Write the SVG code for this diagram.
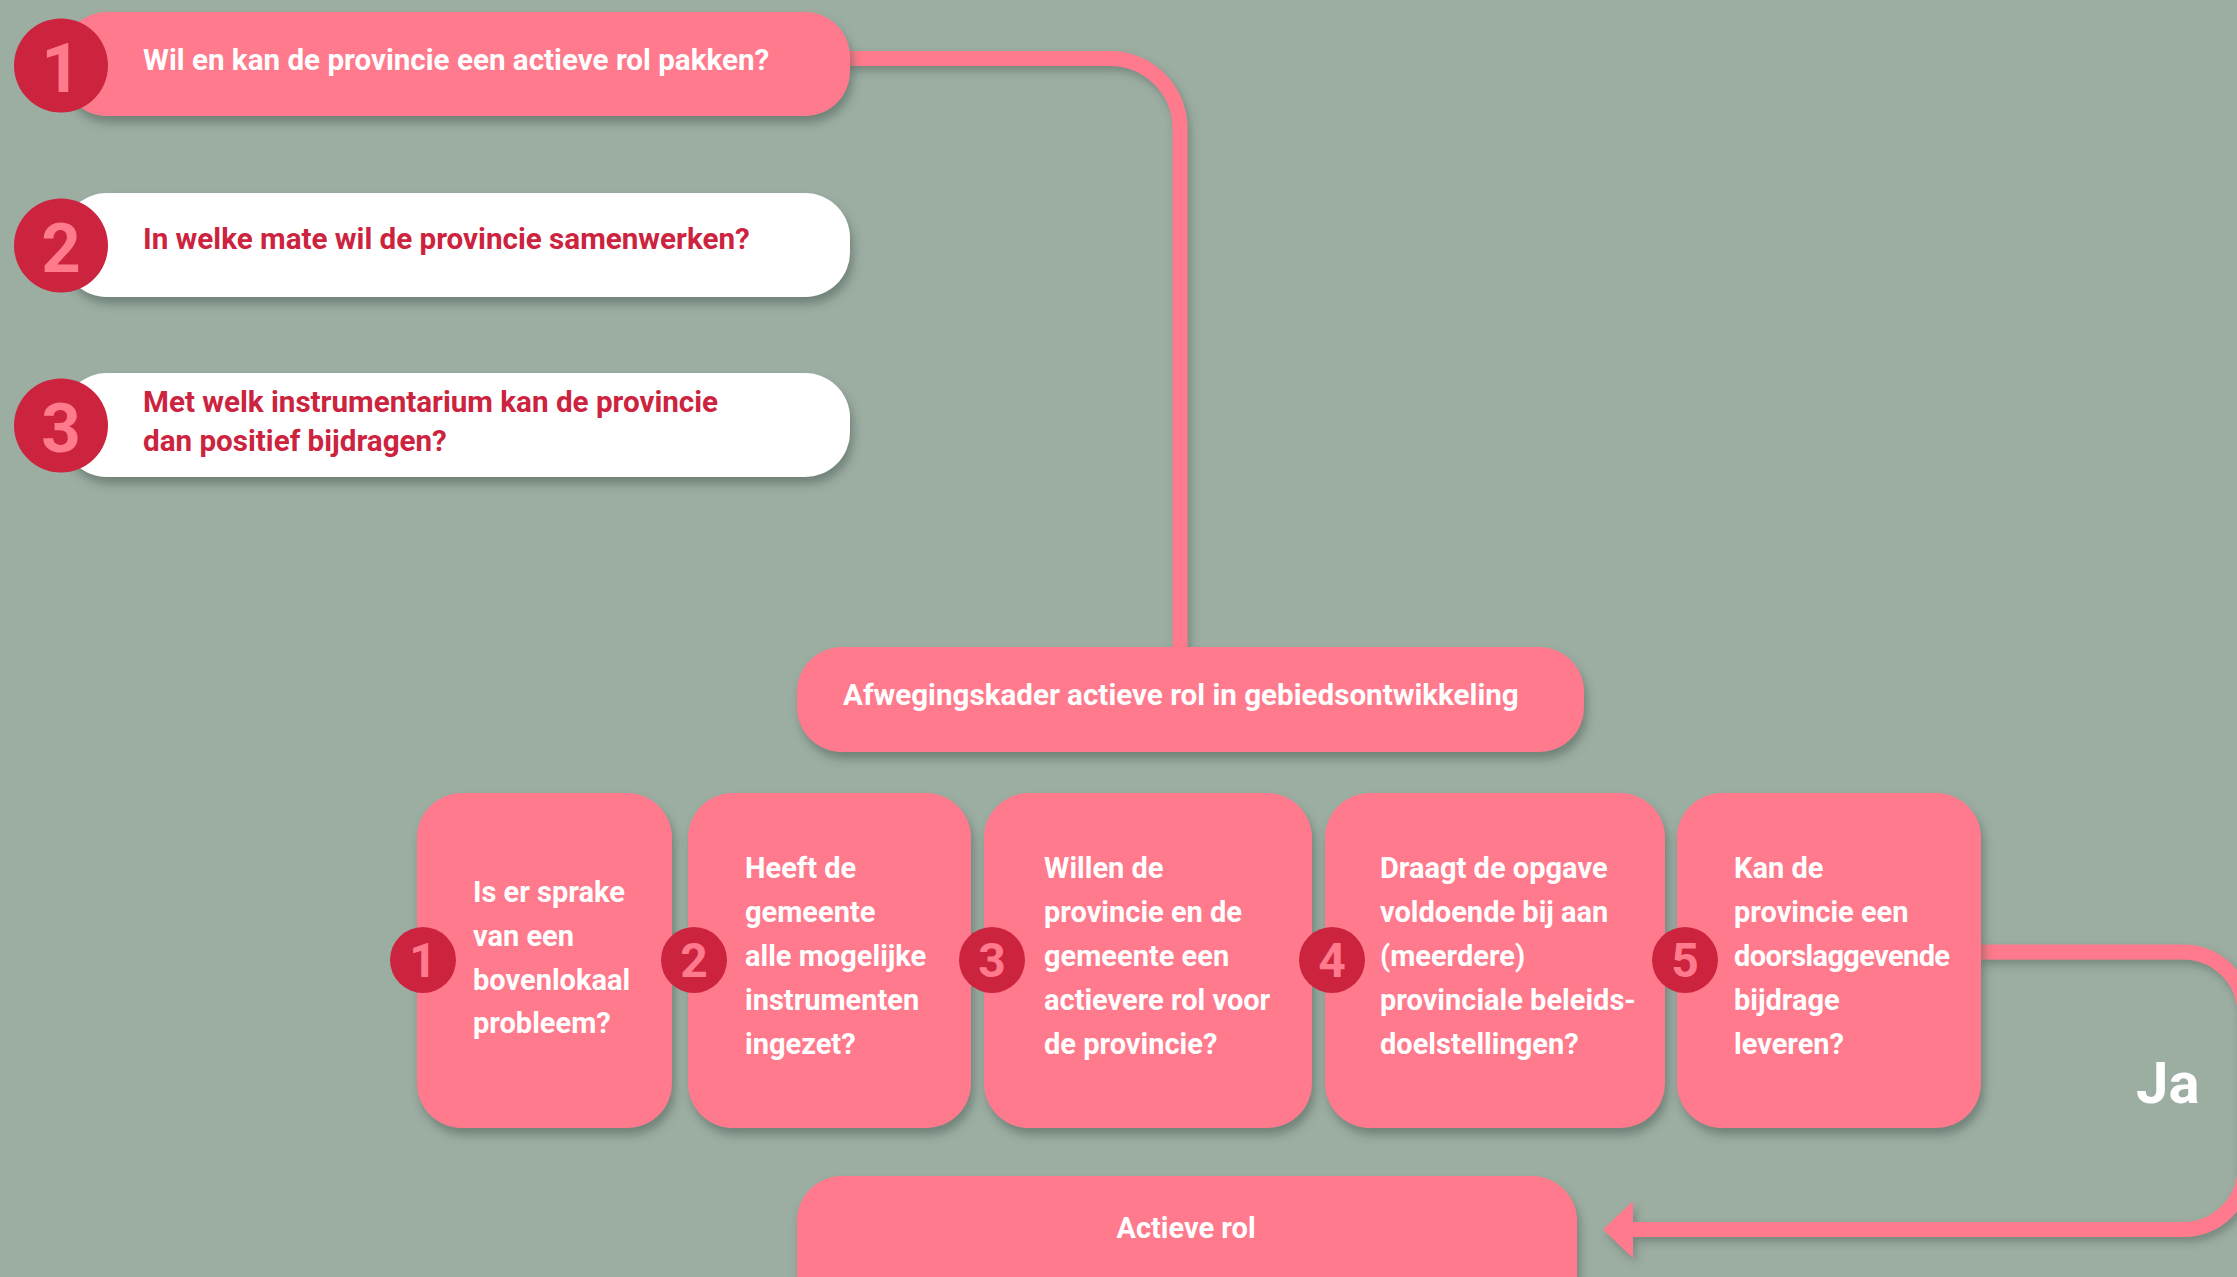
<svg xmlns="http://www.w3.org/2000/svg" width="2237" height="1277" viewBox="0 0 2237 1277">
<defs>
<filter id="sh" x="-10%" y="-20%" width="130%" height="150%">
<feDropShadow dx="3" dy="7" stdDeviation="5" flood-color="#3d4d44" flood-opacity="0.45"/>
</filter>
<filter id="shl" x="-10%" y="-10%" width="120%" height="120%">
<feDropShadow dx="3" dy="5" stdDeviation="4" flood-color="#3d4d44" flood-opacity="0.4"/>
</filter>
<marker id="arr" markerUnits="userSpaceOnUse" markerWidth="30" markerHeight="57" viewBox="0 0 30 57" refX="0" refY="28.5" orient="auto">
<path d="M0,0 L30,28.5 L0,57 Z" fill="#ff7a8c"/>
</marker>
</defs>
<style>
.pink{fill:#ff7a8c}
.white{fill:#ffffff}
.dot{fill:#cc233f}
.num{fill:#ff7a8c;font-family:Roboto,"Liberation Sans",sans-serif;font-weight:700;text-anchor:middle}
.tw{fill:#ffffff;font-family:Roboto,"Liberation Sans",sans-serif;font-weight:700;font-size:29px}
.tr{fill:#cc233f;font-family:Roboto,"Liberation Sans",sans-serif;font-weight:700;font-size:29.6px}
.big{font-size:29.6px}
.line{fill:none;stroke:#ff7a8c;stroke-width:15}
</style>
<rect width="2237" height="1277" fill="#9cada2"/>

<g id="connectors" filter="url(#shl)">
<path class="line" d="M845,58.5 H1110 A70,70 0 0 1 1180,128.5 V650"/>
<path class="line" d="M1978,952 H2183 A62,62 0 0 1 2245,1014 V1167.5 A62,62 0 0 1 2183,1229.5 H1633" marker-end="url(#arr)"/>
</g>

<g id="q1">
<rect class="pink" x="62" y="12" width="788" height="104" rx="45" filter="url(#sh)"/>
<circle class="dot" cx="61" cy="65.5" r="47"/>
<text class="num" x="61" y="92" font-size="69">1</text>
<text class="tw big" x="143" y="70">Wil en kan de provincie een actieve rol pakken?</text>
</g>
<g id="q2">
<rect class="white" x="62" y="193" width="788" height="104" rx="45" filter="url(#sh)"/>
<circle class="dot" cx="61" cy="245.5" r="47"/>
<text class="num" x="61" y="272" font-size="69">2</text>
<text class="tr" x="143" y="249">In welke mate wil de provincie samenwerken?</text>
</g>
<g id="q3">
<rect class="white" x="62" y="373" width="788" height="104" rx="45" filter="url(#sh)"/>
<circle class="dot" cx="61" cy="425.5" r="47"/>
<text class="num" x="61" y="452" font-size="69">3</text>
<text class="tr" x="143" y="412">Met welk instrumentarium kan de provincie</text>
<text class="tr" x="143" y="451">dan positief bijdragen?</text>
</g>

<g id="kader">
<rect class="pink" x="797" y="647" width="787" height="105" rx="45" filter="url(#sh)"/>
<text class="tw big" x="843" y="705">Afwegingskader actieve rol in gebiedsontwikkeling</text>
</g>

<g id="card1">
<rect class="pink" x="417" y="793" width="255" height="335" rx="45" filter="url(#sh)"/>
<circle class="dot" cx="423" cy="960" r="33"/>
<text class="num" x="423" y="977" font-size="48">1</text>
<text class="tw" x="473" y="902">Is er sprake</text>
<text class="tw" x="473" y="946">van een</text>
<text class="tw" x="473" y="990">bovenlokaal</text>
<text class="tw" x="473" y="1033">probleem?</text>
</g>
<g id="card2">
<rect class="pink" x="688" y="793" width="283" height="335" rx="45" filter="url(#sh)"/>
<circle class="dot" cx="694" cy="960" r="33"/>
<text class="num" x="694" y="977" font-size="48">2</text>
<text class="tw" x="745" y="878">Heeft de</text>
<text class="tw" x="745" y="922">gemeente</text>
<text class="tw" x="745" y="966">alle mogelijke</text>
<text class="tw" x="745" y="1010">instrumenten</text>
<text class="tw" x="745" y="1054">ingezet?</text>
</g>
<g id="card3">
<rect class="pink" x="984" y="793" width="328" height="335" rx="45" filter="url(#sh)"/>
<circle class="dot" cx="992" cy="960" r="33"/>
<text class="num" x="992" y="977" font-size="48">3</text>
<text class="tw" x="1044" y="878">Willen de</text>
<text class="tw" x="1044" y="922">provincie en de</text>
<text class="tw" x="1044" y="966">gemeente een</text>
<text class="tw" x="1044" y="1010">actievere rol voor</text>
<text class="tw" x="1044" y="1054">de provincie?</text>
</g>
<g id="card4">
<rect class="pink" x="1325" y="793" width="340" height="335" rx="45" filter="url(#sh)"/>
<circle class="dot" cx="1332" cy="960" r="33"/>
<text class="num" x="1332" y="977" font-size="48">4</text>
<text class="tw" x="1380" y="878">Draagt de opgave</text>
<text class="tw" x="1380" y="922">voldoende bij aan</text>
<text class="tw" x="1380" y="966">(meerdere)</text>
<text class="tw" x="1380" y="1010">provinciale beleids-</text>
<text class="tw" x="1380" y="1054">doelstellingen?</text>
</g>
<g id="card5">
<rect class="pink" x="1677" y="793" width="304" height="335" rx="45" filter="url(#sh)"/>
<circle class="dot" cx="1685" cy="960" r="33"/>
<text class="num" x="1685" y="977" font-size="48">5</text>
<text class="tw" x="1734" y="878">Kan de</text>
<text class="tw" x="1734" y="922">provincie een</text>
<text class="tw" x="1734" y="966" textLength="216" lengthAdjust="spacing">doorslaggevende</text>
<text class="tw" x="1734" y="1010">bijdrage</text>
<text class="tw" x="1734" y="1054">leveren?</text>
</g>

<g id="ja">
<text class="tw" x="2136" y="1103" style="font-size:58px">Ja</text>
</g>

<g id="actief">
<rect class="pink" x="797" y="1176" width="780" height="150" rx="45" filter="url(#sh)"/>
<text class="tw" x="1186" y="1238" text-anchor="middle">Actieve rol</text>
</g>
</svg>
